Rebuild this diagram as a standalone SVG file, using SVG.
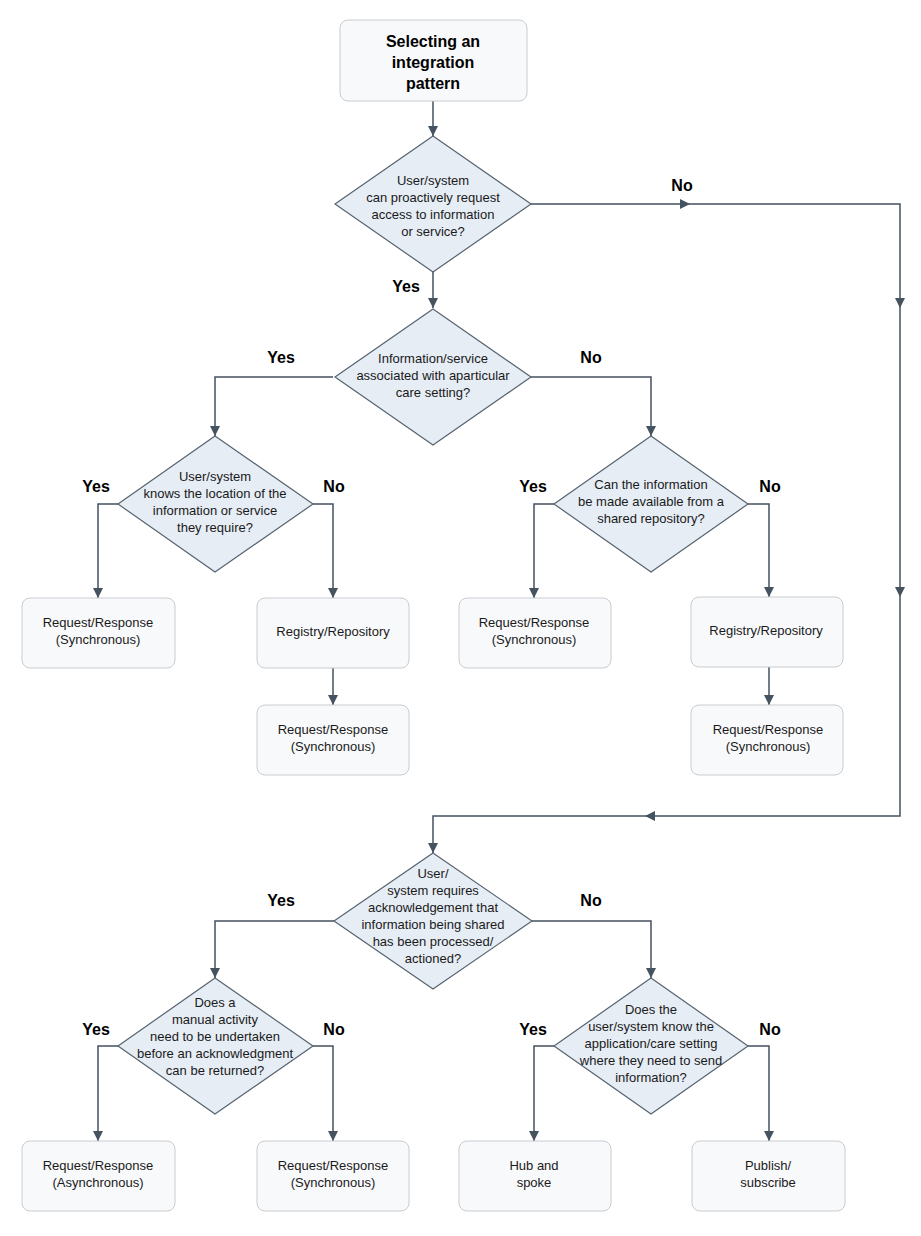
<svg xmlns="http://www.w3.org/2000/svg" width="921" height="1236" viewBox="0 0 921 1236">
<defs>
<style>
.box{fill:#f8f9fa;stroke:#c8ccd0;stroke-width:1}
.dia{fill:#e6edf5;stroke:#56636f;stroke-width:1.2}
.t{font-family:"Liberation Sans",Arial,sans-serif;font-size:13px;fill:#1a1a1a;text-anchor:middle}
.h{font-family:"Liberation Sans",Arial,sans-serif;font-size:16px;font-weight:bold;fill:#000;text-anchor:middle}
.lb{font-family:"Liberation Sans",Arial,sans-serif;font-size:16px;font-weight:bold;fill:#000;text-anchor:middle}
.c{fill:none;stroke:#45525f;stroke-width:1.5}
.ah{fill:#45525f}
</style>
<marker id="arr" viewBox="0 0 10 10" refX="10" refY="5" markerWidth="10" markerHeight="10" markerUnits="userSpaceOnUse" orient="auto"><path d="M0,0 L10,5 L0,10 z" class="ah"/></marker>
</defs>
<rect width="921" height="1236" fill="#fff"/>
<g id="connectors">
<path class="c" marker-end="url(#arr)" d="M433,101 V136"/>
<path class="c" d="M531,204 H900 V816 H433 V853" marker-end="url(#arr)"/>
<polygon class="ah" points="680,199 690,204 680,209"/>
<polygon class="ah" points="895,298 900,308 905,298"/>
<polygon class="ah" points="895,587 900,597 905,587"/>
<polygon class="ah" points="655,811 645,816 655,821"/>
<path class="c" marker-end="url(#arr)" d="M433,272 V308"/>
<path class="c" marker-end="url(#arr)" d="M333,377 H215 V436"/>
<path class="c" marker-end="url(#arr)" d="M531,377 H651 V436"/>
<path class="c" marker-end="url(#arr)" d="M118,504 H98 V598"/>
<path class="c" marker-end="url(#arr)" d="M313,504 H333 V598"/>
<path class="c" marker-end="url(#arr)" d="M554,504 H534 V598"/>
<path class="c" marker-end="url(#arr)" d="M748,504 H769 V597"/>
<path class="c" marker-end="url(#arr)" d="M333,668 V705"/>
<path class="c" marker-end="url(#arr)" d="M769,667 V705"/>
<path class="c" marker-end="url(#arr)" d="M334,921 H215 V978"/>
<path class="c" marker-end="url(#arr)" d="M532,921 H651 V978"/>
<path class="c" marker-end="url(#arr)" d="M118,1046 H98 V1141"/>
<path class="c" marker-end="url(#arr)" d="M313,1046 H333 V1141"/>
<path class="c" marker-end="url(#arr)" d="M554,1046 H534 V1141"/>
<path class="c" marker-end="url(#arr)" d="M748,1046 H769 V1141"/>
</g>
<g id="labels">
<text class="lb" x="682" y="191">No</text>
<text class="lb" x="406" y="292">Yes</text>
<text class="lb" x="281" y="363">Yes</text>
<text class="lb" x="591" y="363">No</text>
<text class="lb" x="96" y="492">Yes</text>
<text class="lb" x="334" y="492">No</text>
<text class="lb" x="533" y="492">Yes</text>
<text class="lb" x="770" y="492">No</text>
<text class="lb" x="281" y="906">Yes</text>
<text class="lb" x="591" y="906">No</text>
<text class="lb" x="96" y="1035">Yes</text>
<text class="lb" x="334" y="1035">No</text>
<text class="lb" x="533" y="1035">Yes</text>
<text class="lb" x="770" y="1035">No</text>
</g>
<g id="start"><rect class="box" x="340" y="20" width="187" height="81" rx="8"/>
<text class="h" x="433" y="47">Selecting an</text><text class="h" x="433" y="68">integration</text><text class="h" x="433" y="89">pattern</text></g>
<g id="d1"><polygon class="dia" points="433,136 531,204 433,272 335,204"/>
<text class="t" x="433" y="185">User/system</text><text class="t" x="433" y="202">can proactively request</text><text class="t" x="433" y="219">access to information</text><text class="t" x="433" y="236">or service?</text></g>
<g id="d2"><polygon class="dia" points="433,309 531,377 433,445 335,377"/>
<text class="t" x="433" y="363">Information/service</text><text class="t" x="433" y="380">associated with aparticular</text><text class="t" x="433" y="397">care setting?</text></g>
<g id="d3"><polygon class="dia" points="215,436 313,504 215,572 118,504"/>
<text class="t" x="215" y="481">User/system</text><text class="t" x="215" y="498">knows the location of the</text><text class="t" x="215" y="515">information or service</text><text class="t" x="215" y="532">they require?</text></g>
<g id="d4"><polygon class="dia" points="651,436 748,504 651,572 554,504"/>
<text class="t" x="651" y="489">Can the information</text><text class="t" x="651" y="506">be made available from a</text><text class="t" x="651" y="523">shared repository?</text></g>
<g id="b1"><rect class="box" x="22" y="598" width="153" height="70" rx="8"/><text class="t" x="98" y="627">Request/Response</text><text class="t" x="98" y="644">(Synchronous)</text></g>
<g id="b2"><rect class="box" x="257" y="598" width="152" height="70" rx="8"/><text class="t" x="333" y="636">Registry/Repository</text></g>
<g id="b3"><rect class="box" x="257" y="705" width="152" height="70" rx="8"/><text class="t" x="333" y="734">Request/Response</text><text class="t" x="333" y="751">(Synchronous)</text></g>
<g id="b4"><rect class="box" x="459" y="598" width="152" height="70" rx="8"/><text class="t" x="534" y="627">Request/Response</text><text class="t" x="534" y="644">(Synchronous)</text></g>
<g id="b5"><rect class="box" x="691" y="597" width="152" height="70" rx="8"/><text class="t" x="766" y="635">Registry/Repository</text></g>
<g id="b6"><rect class="box" x="691" y="705" width="152" height="70" rx="8"/><text class="t" x="768" y="734">Request/Response</text><text class="t" x="768" y="751">(Synchronous)</text></g>
<g id="d5"><polygon class="dia" points="433,853 532,921 433,989 334,921"/>
<text class="t" x="433" y="878">User/</text><text class="t" x="433" y="895">system requires</text><text class="t" x="433" y="912">acknowledgement that</text><text class="t" x="433" y="929">information being shared</text><text class="t" x="433" y="946">has been processed/</text><text class="t" x="433" y="963">actioned?</text></g>
<g id="d6"><polygon class="dia" points="215,978 313,1046 215,1114 118,1046"/>
<text class="t" x="215" y="1007">Does a</text><text class="t" x="215" y="1024">manual activity</text><text class="t" x="215" y="1041">need to be undertaken</text><text class="t" x="215" y="1058">before an acknowledgment</text><text class="t" x="215" y="1075">can be returned?</text></g>
<g id="d7"><polygon class="dia" points="651,978 748,1046 651,1114 554,1046"/>
<text class="t" x="651" y="1014">Does the</text><text class="t" x="651" y="1031">user/system know the</text><text class="t" x="651" y="1048">application/care setting</text><text class="t" x="651" y="1065">where they need to send</text><text class="t" x="651" y="1082">information?</text></g>
<g id="b7"><rect class="box" x="22" y="1141" width="153" height="70" rx="8"/><text class="t" x="98" y="1170">Request/Response</text><text class="t" x="98" y="1187">(Asynchronous)</text></g>
<g id="b8"><rect class="box" x="257" y="1141" width="152" height="70" rx="8"/><text class="t" x="333" y="1170">Request/Response</text><text class="t" x="333" y="1187">(Synchronous)</text></g>
<g id="b9"><rect class="box" x="459" y="1141" width="152" height="70" rx="8"/><text class="t" x="534" y="1170">Hub and</text><text class="t" x="534" y="1187">spoke</text></g>
<g id="b10"><rect class="box" x="692" y="1141" width="153" height="70" rx="8"/><text class="t" x="768" y="1170">Publish/</text><text class="t" x="768" y="1187">subscribe</text></g>
</svg>
